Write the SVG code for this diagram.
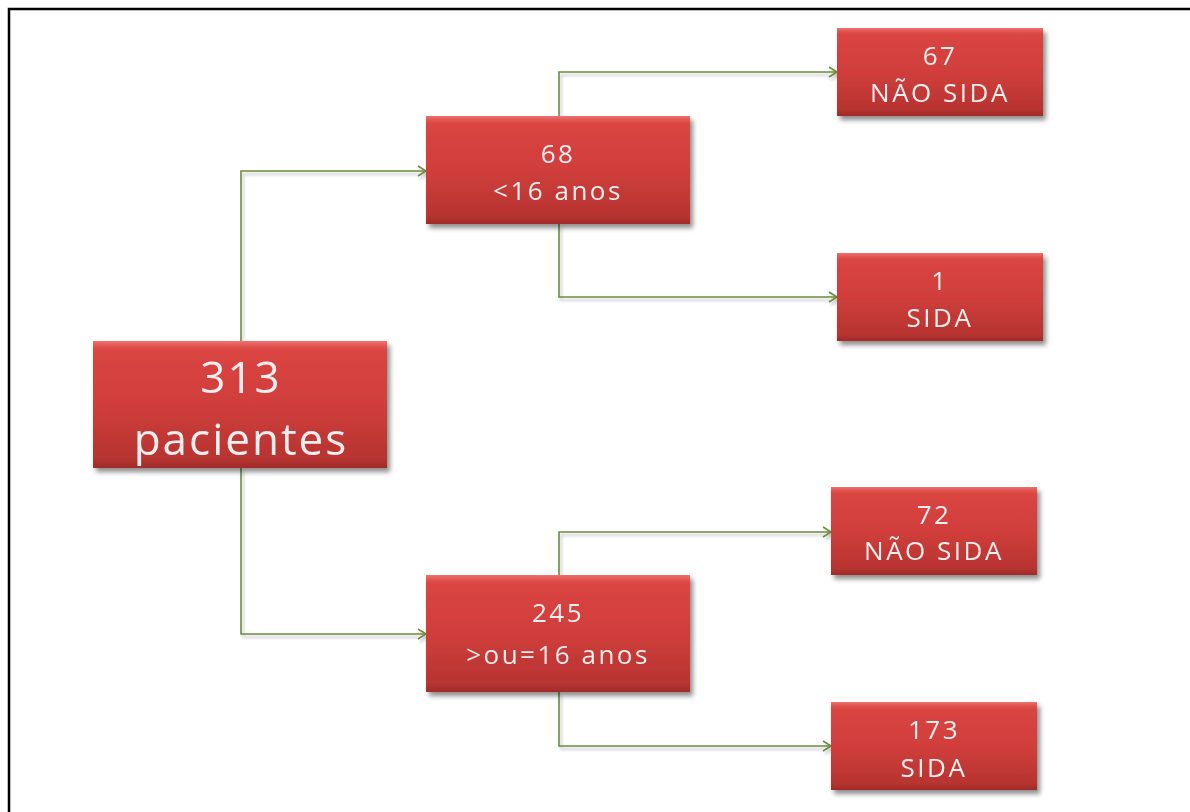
<svg xmlns="http://www.w3.org/2000/svg" width="1190" height="812" viewBox="0 0 1190 812">
<defs>
<linearGradient id="red" x1="0" y1="0" x2="0" y2="1">
<stop offset="0" stop-color="#DC4643"/>
<stop offset="0.5" stop-color="#D03E3B"/>
<stop offset="1" stop-color="#B3322F"/>
</linearGradient>
<linearGradient id="bevel" x1="0" y1="0" x2="0" y2="1">
<stop offset="0" stop-color="#F07470"/>
<stop offset="0.08" stop-color="#E05450" stop-opacity="0"/>
<stop offset="0.92" stop-color="#9A2826" stop-opacity="0"/>
<stop offset="1" stop-color="#9A2826" stop-opacity="0.7"/>
</linearGradient>
<filter id="sh" x="-10%" y="-10%" width="125%" height="130%">
<feGaussianBlur in="SourceAlpha" stdDeviation="2.5"/>
<feOffset dx="3" dy="4" result="b"/>
<feComponentTransfer><feFuncA type="linear" slope="0.45"/></feComponentTransfer>
<feMerge><feMergeNode/><feMergeNode in="SourceGraphic"/></feMerge>
</filter>
<filter id="lsh" x="-5%" y="-5%" width="110%" height="110%">
<feGaussianBlur in="SourceAlpha" stdDeviation="1.5"/>
<feOffset dx="2" dy="3"/>
<feComponentTransfer><feFuncA type="linear" slope="0.25"/></feComponentTransfer>
<feMerge><feMergeNode/><feMergeNode in="SourceGraphic"/></feMerge>
</filter>
<marker id="arr" markerWidth="14" markerHeight="14" refX="11" refY="7" orient="auto" markerUnits="userSpaceOnUse">
<path d="M3,2 L11,7 L3,12" fill="none" stroke="#6E8A3E" stroke-width="1.6"/>
</marker>
</defs>
<style>
.box{fill:url(#red);}
.bev{fill:url(#bevel);}
.t{font-family:"Open Sans","Liberation Sans",sans-serif;fill:#EEEEEE;text-anchor:middle;font-weight:500;}
.s{font-size:26px;letter-spacing:2.5px;}
.l{font-size:44px;letter-spacing:2px;}
.c{fill:none;stroke:#6E8A3E;stroke-width:1.6;marker-end:url(#arr);}
</style>
<rect width="1190" height="812" fill="#FFFFFF"/>
<path d="M9,812 L9,9 L1190,9" fill="none" stroke="#000" stroke-width="2.5"/>
<g id="connectors" filter="url(#lsh)">
<path class="c" d="M241,341 L241,171 L426,171"/>
<path class="c" d="M241,468 L241,634 L426,634"/>
<path class="c" d="M559,116 L559,72 L837,72"/>
<path class="c" d="M559,224 L559,297 L837,297"/>
<path class="c" d="M559,575 L559,532 L831,532"/>
<path class="c" d="M559,692 L559,746 L831,746"/>
</g>
<g id="root" filter="url(#sh)">
<rect class="box" x="93" y="341" width="294" height="127"/>
<rect class="bev" x="93" y="341" width="294" height="127"/>
<text class="t l" x="241" y="393">313</text>
<text class="t l" x="241" y="455">pacientes</text>
</g>
<g id="n68" filter="url(#sh)">
<rect class="box" x="426" y="116" width="264" height="108"/>
<rect class="bev" x="426" y="116" width="264" height="108"/>
<text class="t s" x="558" y="163">68</text>
<text class="t s" x="558" y="200">&lt;16 anos</text>
</g>
<g id="n67" filter="url(#sh)">
<rect class="box" x="837" y="28" width="206" height="88"/>
<rect class="bev" x="837" y="28" width="206" height="88"/>
<text class="t s" x="940" y="65">67</text>
<text class="t s" x="940" y="102">NÃO SIDA</text>
</g>
<g id="n1" filter="url(#sh)">
<rect class="box" x="837" y="253" width="206" height="88"/>
<rect class="bev" x="837" y="253" width="206" height="88"/>
<text class="t s" x="940" y="290">1</text>
<text class="t s" x="940" y="327">SIDA</text>
</g>
<g id="n245" filter="url(#sh)">
<rect class="box" x="426" y="575" width="264" height="117"/>
<rect class="bev" x="426" y="575" width="264" height="117"/>
<text class="t s" x="558" y="622">245</text>
<text class="t s" x="558" y="664">&gt;ou=16 anos</text>
</g>
<g id="n72" filter="url(#sh)">
<rect class="box" x="831" y="487" width="206" height="88"/>
<rect class="bev" x="831" y="487" width="206" height="88"/>
<text class="t s" x="934" y="524">72</text>
<text class="t s" x="934" y="560">NÃO SIDA</text>
</g>
<g id="n173" filter="url(#sh)">
<rect class="box" x="831" y="702" width="206" height="88"/>
<rect class="bev" x="831" y="702" width="206" height="88"/>
<text class="t s" x="934" y="739">173</text>
<text class="t s" x="934" y="777">SIDA</text>
</g>
</svg>
